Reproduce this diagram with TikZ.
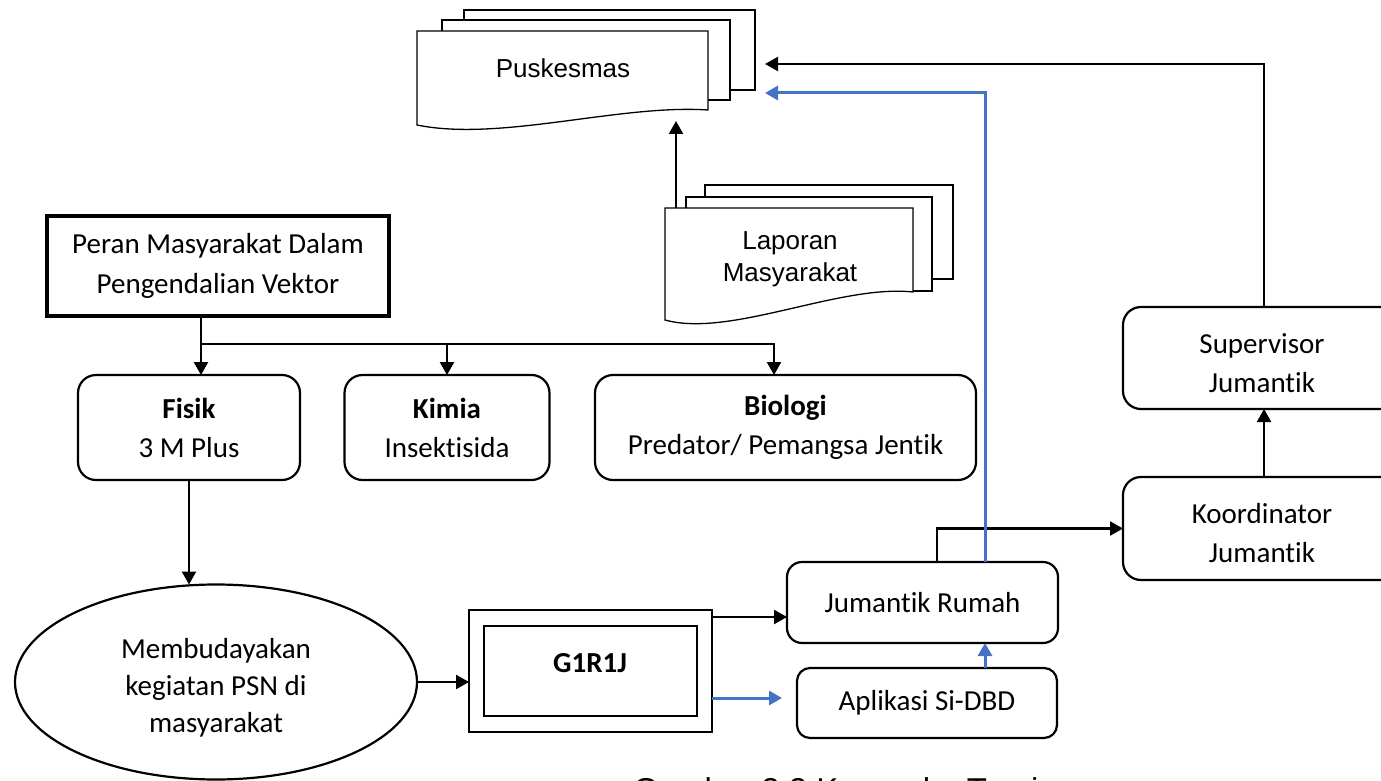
\documentclass[tikz,border=0pt]{standalone}
\usepackage{fontspec}
\setmainfont{Carlito}[Ligatures=NoCommon]
\newfontfamily\arialf{Liberation Sans}
\usetikzlibrary{arrows.meta,shapes.geometric,calc}
\definecolor{blueln}{HTML}{4472C4}
\begin{document}
\begin{tikzpicture}[x=1pt,y=-1pt,
  every node/.style={inner sep=0pt, outer sep=0pt},
  txt/.style={font=\fontsize{29}{39}\selectfont, align=center},
  rbox/.style={txt, draw, line width=2.2pt, rounded corners=18pt},
  sbox/.style={txt, draw, line width=2.4pt},
  arr/.style={line width=2.3pt, -{Triangle[length=13pt,width=14pt]}},
  barr/.style={line width=3pt, draw=blueln, -{Triangle[length=13pt,width=14pt,fill=blueln]}},
  docline/.style={line width=1.3pt, line join=miter},
  doctxt/.style={font=\arialf\fontsize{26}{32}\selectfont, align=center}]
\useasboundingbox (0,0) rectangle (1381,781);
\clip (0,0) rectangle (1381,781);

% Puskesmas (multi-document)
\draw[docline] (464,20) -- (464,10) -- (755,10) -- (755,90) -- (730,90);
\draw[docline] (442,31) -- (442,20) -- (730,20) -- (730,100) -- (708,100);
\draw[docline, fill=white] (417,31) -- (708,31) -- (708,110) .. controls (620,104) and (500,142) .. (417,125) -- cycle;
\node[doctxt] (pusk) at (563,68) {Puskesmas};

% Laporan Masyarakat (multi-document)
\draw[docline] (705,197) -- (705,185) -- (953,185) -- (953,279) -- (932,279);
\draw[docline] (686,208) -- (686,197) -- (932,197) -- (932,291) -- (913,291);
\draw[docline, fill=white] (665,208) -- (913,208) -- (913,292) .. controls (840,284) and (730,338) .. (665,320) -- cycle;
\node[doctxt] (lap) at (790,259) {Laporan\\Masyarakat};

\coordinate (lapTop) at (676,208);
\coordinate (puskBot) at (676,121);
\coordinate (puskIn1) at (765,64);
\coordinate (puskIn2) at (765,93);

% Boxes
\node[sbox, line width=3.5pt, minimum width=342, minimum height=100, font=\fontsize{29}{40}\selectfont] (peran) at (218,266) {Peran Masyarakat Dalam\\Pengendalian Vektor};
\node[rbox, minimum width=222, minimum height=105] (fisik) at (189,427.5) {\textbf{Fisik}\\3 M Plus};
\node[rbox, minimum width=205, minimum height=105] (kimia) at (447,427.5) {\textbf{Kimia}\\Insektisida};
\node[rbox, minimum width=381, minimum height=105] (bio) at (785.5,427.5) {\textbf{Biologi}\\Predator/ Pemangsa Jentik};

\node[draw, ellipse, line width=2.2pt, minimum width=402, minimum height=195] (ell) at (216,682) {};
\node[txt, font=\fontsize{29}{37}\selectfont] (ellt) at (216,688) {Membudayakan\\kegiatan PSN di\\masyarakat};

\node[draw, line width=2.4pt, minimum width=243, minimum height=122] (g1out) at (590.5,671) {};
\node[draw, line width=2.4pt, minimum width=213, minimum height=90] (g1in) at (590.5,671) {};
\node[txt, font=\bfseries\fontsize{29}{39}\selectfont] (g1t) at (590,663) {G1R1J};

\node[rbox, rounded corners=15pt, minimum width=271, minimum height=81] (jr) at (922.5,602.5) {Jumantik Rumah};
\node[rbox, rounded corners=13pt, minimum width=260, minimum height=70] (apl) at (927,703) {Aplikasi Si-DBD};

\node[rbox, minimum width=282, minimum height=102] (sup) at (1264,358) {};
\node[txt] (supt) at (1262,363) {Supervisor\\Jumantik};
\node[rbox, minimum width=282, minimum height=103] (koor) at (1264,528.5) {};
\node[txt] (koort) at (1262,533) {Koordinator\\Jumantik};

% Connectors
\coordinate (br) at (201,344);
\draw[arr] (peran.south -| br) -- (br |- fisik.north);
\draw[arr] (br) -| ([xshift=-11.5pt]bio.north);
\draw[arr] (br -| kimia.north) -- (kimia.north);
\draw[arr] (fisik.south) -- (fisik.south |- ell.north);
\draw[arr] (ell.east) -- (ell.east -| g1out.west);
\draw[arr] ([yshift=-7pt]g1out.north east) -- ([yshift=-7pt]g1out.north east -| jr.west);
\draw[barr, shorten >=15pt] ([yshift=-27pt]g1out.east) -- ([yshift=-27pt]g1out.east -| apl.west);
\draw[barr] ([xshift=58pt]apl.north) -- ([xshift=58pt]apl.north |- jr.south);
\draw[arr] ([xshift=14.5pt]jr.north) |- (koor.west);
\draw[barr] ([xshift=63pt]jr.north) |- (puskIn2);
\draw[arr] (koor.north) -- (sup.south);
\draw[arr] (sup.north) |- (puskIn1);
\draw[arr] (lapTop) -- (puskBot);

% Caption (cut by the lower edge)
\node[font=\arialf\fontsize{33}{40}\selectfont, anchor=base west] (cap) at (633,801) {Gambar 2.2 Kerangka Teori};
\end{tikzpicture}
\end{document}
